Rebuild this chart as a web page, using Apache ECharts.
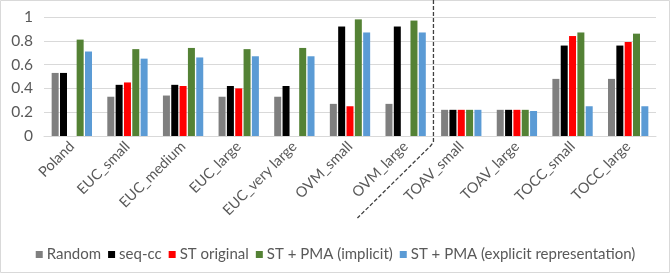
<!DOCTYPE html>
<html>
<head>
<meta charset="utf-8">
<script src="https://cdn.jsdelivr.net/npm/echarts@6/dist/echarts.min.js"></script>
<style>
html,body{margin:0;padding:0;background:#fff;}
#c{width:671px;height:274px;}
</style>
</head>
<body>
<div id="c"></div>
<script>
const categories = ['Poland','EUC_small','EUC_medium','EUC_large','EUC_very large','OVM_small','OVM_large','TOAV_small','TOAV_large','TOCC_small','TOCC_large'];
const seriesNames = ['Random','seq-cc','ST original','ST + PMA (implicit)','ST + PMA (explicit representation)'];
const randomVals   = [0.53,0.33,0.34,0.33,0.33,0.27,0.27,0.22,0.22,0.48,0.48];
const seqccVals    = [0.53,0.43,0.43,0.42,0.42,0.92,0.92,0.22,0.22,0.76,0.76];
const stOrigVals   = [null,0.45,0.42,0.40,null,0.25,null,0.22,0.22,0.84,0.79];
const pmaImplVals  = [0.81,0.73,0.74,0.73,0.74,0.98,0.97,0.22,0.22,0.87,0.86];
const pmaExplVals  = [0.71,0.65,0.66,0.67,0.67,0.87,0.87,0.22,0.21,0.25,0.25];
const yTicks = [0,0.2,0.4,0.6,0.8,1];

const colors = ['#7f7f7f','#000000','#ff0000','#548235','#5b9bd5'];
const allVals = [randomVals,seqccVals,stOrigVals,pmaImplVals,pmaExplVals];
const FONT = 'Lato, "Open Sans", sans-serif';

const chart = echarts.init(document.getElementById('c'), null, {renderer:'canvas'});
const option = {
  animation:false,
  textStyle:{fontFamily:FONT},
  grid:{left:44, right:15, top:17, bottom:138, containLabel:false},
  legend:{
    bottom:7, left:'center',
    itemWidth:7, itemHeight:7, itemGap:7,
    icon:'rect',
    textStyle:{color:'#595959', fontSize:15, fontFamily:FONT, padding:[0,0,0,-1]},
    data:seriesNames
  },
  xAxis:{
    type:'category', data:categories,
    axisLine:{lineStyle:{color:'#d9d9d9'}},
    axisTick:{show:false},
    axisLabel:{rotate:45, color:'#595959', fontSize:14.5, fontFamily:FONT, margin:8, interval:0}
  },
  yAxis:{
    type:'value', min:0, max:1, interval:0.2,
    axisLine:{show:false}, axisTick:{show:false},
    splitLine:{lineStyle:{color:'#d9d9d9', width:1}},
    axisLabel:{color:'#595959', fontSize:15.5, fontFamily:FONT, margin:11,
      formatter:function(v){ const t = yTicks.find(x=>Math.abs(x-v)<1e-9); return String(t!==undefined?t:v); }}
  },
  series: seriesNames.map((n,i)=>({
    name:n, type:'bar', data:allVals[i],
    barWidth:7, barGap:'19%',
    itemStyle:{color:colors[i]}
  }))
};
chart.setOption(option);

// decorative dashed separator between OVM_large and TOAV_small
const p6 = chart.convertToPixel({xAxisIndex:0}, 'OVM_large');
const p7 = chart.convertToPixel({xAxisIndex:0}, 'TOAV_small');
const sx = (p6 + p7) / 2;
const axisY = chart.convertToPixel({yAxisIndex:0}, 0);
const bendY = axisY + 9;
chart.setOption({
  graphic:[
    {type:'rect', shape:{x:0.5,y:0.5,width:669,height:272}, style:{fill:null, stroke:'#d9d9d9', lineWidth:1}, silent:true},
    {type:'polyline', shape:{points:[[sx,0],[sx,bendY-3],[sx-3,bendY+1],[sx-76,bendY+73]]},
      style:{stroke:'#404040', lineWidth:1.3, lineDash:[4,2], fill:null}, silent:true, z:10}
  ]
});
</script>
</body>
</html>
